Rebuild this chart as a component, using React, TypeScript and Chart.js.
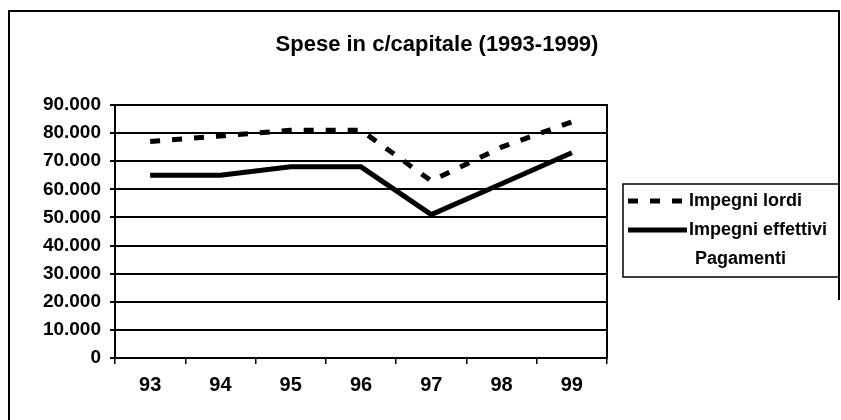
import React, { useEffect, useRef } from 'react';
import { Chart, registerables } from 'chart.js';

Chart.register(...registerables);

const titleText = 'Spese in c/capitale (1993-1999)';
const categories = ['93', '94', '95', '96', '97', '98', '99'];
const impegniLordi = [77000, 79000, 81000, 81000, 63000, 75000, 84000];
const impegniEffettivi = [65000, 65000, 68000, 68000, 51000, 62000, 73000];
const pagamenti: (number | null)[] = [];
const seriesLabels = ['Impegni lordi', 'Impegni effettivi', 'Pagamenti'];
const yMin = 0;
const yMax = 90000;
const yStep = 10000;

const FONT = '"Liberation Sans", Arial, Helvetica, sans-serif';

function fmt(v: number): string {
  return String(v).replace(/\B(?=(\d{3})+(?!\d))/g, '.');
}

const decorPlugin = {
  id: 'decor',
  afterDraw(chart: any) {
    const ctx = chart.ctx as CanvasRenderingContext2D;
    const a = chart.chartArea;
    ctx.save();
    ctx.strokeStyle = '#000';
    ctx.fillStyle = '#000';
    // right border of plot area
    ctx.lineWidth = 2;
    ctx.beginPath();
    ctx.moveTo(a.right, a.top - 1);
    ctx.lineTo(a.right, a.bottom + 1);
    ctx.stroke();
    // outer frame
    ctx.lineWidth = 2;
    ctx.beginPath();
    ctx.moveTo(9, 420);
    ctx.lineTo(9, 11);
    ctx.lineTo(839, 11);
    ctx.lineTo(839, 300);
    ctx.stroke();
    // title
    ctx.font = 'bold 22px ' + FONT;
    ctx.textAlign = 'center';
    ctx.textBaseline = 'alphabetic';
    ctx.fillText(titleText, 437, 51);
    // legend
    const lx = 623, ly = 184, lw = 216, lh = 93;
    ctx.lineWidth = 1.5;
    ctx.strokeRect(lx, ly, lw, lh);
    const rows = [201, 230, 259];
    ctx.font = 'bold 18px ' + FONT;
    ctx.textAlign = 'left';
    ctx.textBaseline = 'middle';
    chart.data.datasets.forEach((ds: any, i: number) => {
      const y = rows[i];
      if (ds.borderWidth > 0) {
        ctx.save();
        ctx.lineWidth = ds.borderWidth;
        ctx.setLineDash(ds.borderDash || []);
        ctx.beginPath();
        ctx.moveTo(628, y);
        ctx.lineTo(687, y);
        ctx.stroke();
        ctx.restore();
        ctx.fillText(ds.label, 689, y);
      } else {
        ctx.fillText(ds.label, 695, y);
      }
    });
    ctx.restore();
  },
};

export default function App() {
  const ref = useRef<HTMLCanvasElement>(null);
  useEffect(() => {
    if (!ref.current) return;
    const chart = new Chart(ref.current, {
      type: 'line',
      data: {
        labels: categories,
        datasets: [
          {
            label: seriesLabels[0],
            data: impegniLordi,
            borderColor: '#000',
            borderWidth: 5,
            borderDash: [10, 12],
            pointRadius: 0,
            tension: 0,
            fill: false,
          },
          {
            label: seriesLabels[1],
            data: impegniEffettivi,
            borderColor: '#000',
            borderWidth: 5,
            pointRadius: 0,
            tension: 0,
            fill: false,
          },
          {
            label: seriesLabels[2],
            data: pagamenti,
            borderColor: '#000',
            borderWidth: 0,
            pointRadius: 0,
            fill: false,
          },
        ],
      },
      options: {
        responsive: false,
        animation: false,
        layout: { padding: { left: 0, right: 234, top: 105, bottom: 22 } },
        plugins: {
          legend: { display: false },
          title: { display: false },
          tooltip: { enabled: false },
        },
        scales: {
          x: {
            offset: true,
            grid: {
              display: true,
              drawOnChartArea: false,
              drawTicks: true,
              tickLength: 6,
              color: '#000',
              lineWidth: 1.5,
              offset: true,
            },
            border: { display: true, color: '#000', width: 2 },
            ticks: {
              color: '#000',
              padding: 9,
              font: { family: FONT, size: 20, weight: 'bold' },
              maxRotation: 0,
            },
            afterFit: (s: any) => {
              s.height = 40;
            },
          },
          y: {
            min: yMin,
            max: yMax,
            grid: { color: '#000', lineWidth: 2, tickLength: 5 },
            border: { display: true, color: '#000', width: 2 },
            ticks: {
              stepSize: yStep,
              color: '#000',
              padding: 9,
              font: { family: FONT, size: 19, weight: 'bold' },
              callback: (v: any) => fmt(Number(v)),
            },
            afterFit: (s: any) => {
              s.width = 115;
            },
          },
        },
      },
      plugins: [decorPlugin],
    } as any);
    return () => chart.destroy();
  }, []);
  return (
    <div style={{ position: 'absolute', left: 0, top: 0, width: 841, height: 420, background: '#fff' }}>
      <canvas ref={ref} width={841} height={420} style={{ display: 'block' }} />
    </div>
  );
}
